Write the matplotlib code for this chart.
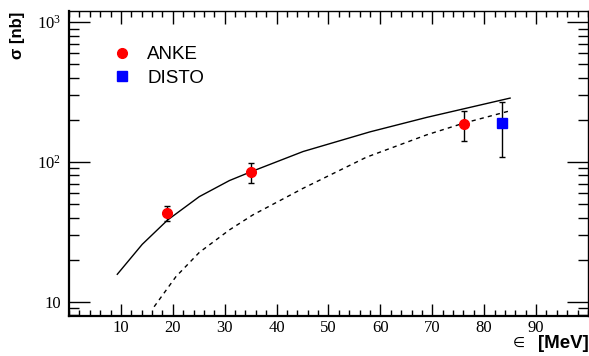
import numpy as np
import matplotlib
matplotlib.use("Agg")
from matplotlib import pyplot as plt
from matplotlib.ticker import MultipleLocator, FixedLocator, NullFormatter

# measured cross sections
anke_eps = [18.9, 35.1, 76.2]
anke_sigma = [43.0, 85.0, 188.0]
anke_err_lo = [5.2, 14.7, 47.0]
anke_err_hi = [5.6, 14.0, 44.0]

disto_eps = [83.4]
disto_sigma = [189.0]
disto_err_lo = [80.0]
disto_err_hi = [81.0]

# model curves
solid_eps = [9.3, 14.1, 19.0, 25.1, 30.9, 35.1, 45.1, 58.0, 68.9, 85.0]
solid_sigma = [15.7, 25.7, 38.4, 56.4, 73.5, 85.1, 118.6, 164.0, 208.0, 286.0]

dashed_eps = [16.4, 20.6, 25.1, 30.9, 35.4, 45.1, 57.3, 68.9, 76.0, 85.0]
dashed_sigma = [9.2, 15.1, 22.5, 32.6, 41.7, 64.7, 108.0, 156.0, 189.0, 232.0]

y_ticks = [10, 100, 1000]
y_ticklabels = ["10", "$10^2$", "$10^3$"]

plt.rcParams["mathtext.fontset"] = "custom"
plt.rcParams["mathtext.rm"] = "Liberation Serif"
plt.rcParams["mathtext.it"] = "Liberation Serif:italic"

fig = plt.figure(figsize=(5.89, 3.56), dpi=100)
ax = fig.add_axes([0.1172, 0.1124, 0.881, 0.8566])

ax.plot(solid_eps, solid_sigma, color="black", lw=1.0)
ax.plot(dashed_eps, dashed_sigma, color="black", lw=1.0, dashes=(3, 3))

ax.errorbar(anke_eps, anke_sigma, yerr=[anke_err_lo, anke_err_hi], fmt="o",
            color="red", ecolor="black", elinewidth=1.0, capsize=2.5,
            markersize=7, label="ANKE", zorder=3)
ax.errorbar(disto_eps, disto_sigma, yerr=[disto_err_lo, disto_err_hi], fmt="s",
            color="blue", ecolor="black", elinewidth=1.0, capsize=2.5,
            markersize=7.5, label="DISTO", zorder=3)

ax.set_yscale("log")
ax.set_xlim(0, 100)
ax.set_ylim(7.9, 1200)

ax.xaxis.set_major_locator(FixedLocator(np.arange(10, 100, 10)))
ax.xaxis.set_minor_locator(MultipleLocator(2))
ax.yaxis.set_major_locator(FixedLocator(y_ticks))
ax.set_yticklabels(y_ticklabels)
ax.yaxis.set_minor_formatter(NullFormatter())

ax.tick_params(which="both", direction="in", top=True, right=True, width=1.0)
ax.tick_params(which="major", axis="x", length=9, pad=3)
ax.tick_params(which="minor", axis="x", length=4.5)
ax.tick_params(which="major", axis="y", length=15, pad=6)
ax.tick_params(which="minor", axis="y", length=7.5)
for lab in ax.get_xticklabels() + ax.get_yticklabels():
    lab.set_family("Liberation Serif")
    lab.set_fontsize(12)
ax.spines["left"].set_linewidth(1.6)
ax.spines["bottom"].set_linewidth(1.6)
ax.spines["top"].set_linewidth(1.0)
ax.spines["right"].set_linewidth(1.0)

handles, labels = ax.get_legend_handles_labels()
handles = [h[0] for h in handles]
ax.legend(handles, labels, loc="upper left", bbox_to_anchor=(0.042, 0.94),
          frameon=False, handletextpad=0.6, handlelength=1.5, labelspacing=0.35,
          prop={"family": "Liberation Sans", "size": 13.5})

fig.text(0.03, 0.968, "σ [nb]", rotation=90, ha="center", va="top",
         family="Liberation Sans", fontsize=12, fontweight="bold")
fig.text(1.0, 0.036, "[MeV]", ha="right", va="center",
         family="Liberation Sans", fontsize=13.5, fontweight="bold")
fig.text(0.892, 0.036, "∈", ha="right", va="center",
         family="DejaVu Sans", fontsize=10)

fig.savefig("out.png", dpi=100)
